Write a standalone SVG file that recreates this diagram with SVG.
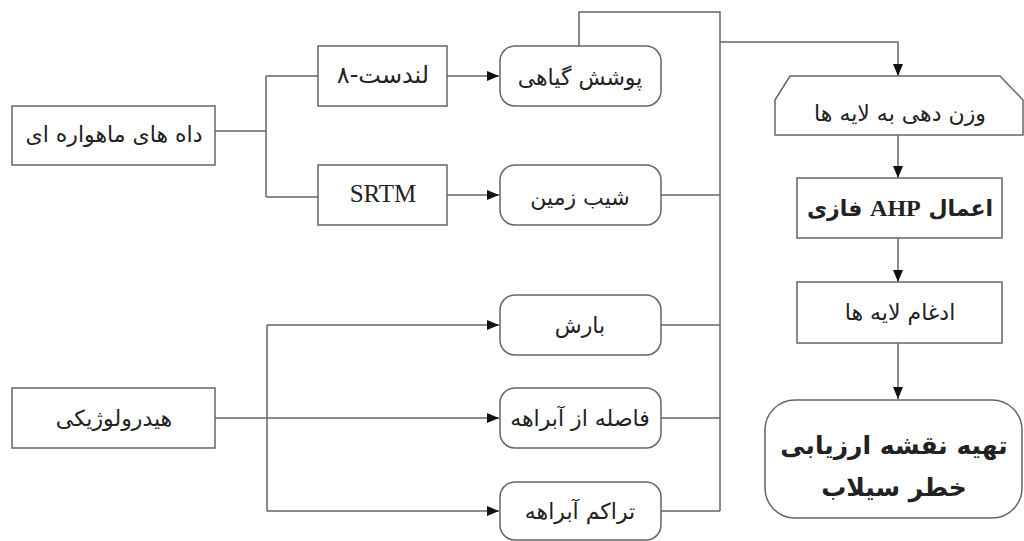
<svg xmlns="http://www.w3.org/2000/svg" width="1024" height="541" viewBox="0 0 1024 541">
<defs>
<style>
.box{fill:#fff;stroke:#666;stroke-width:1.5}
.ln{fill:none;stroke:#666;stroke-width:1.5}
.t{font-family:"DejaVu Sans","Noto Sans",sans-serif;font-size:22px;fill:#222;text-anchor:middle;dominant-baseline:central;direction:rtl;unicode-bidi:embed}
.lat{font-family:"Liberation Serif",serif;font-size:25px;fill:#222;text-anchor:middle;dominant-baseline:central}
.b{font-weight:bold}
.ser{font-family:"Liberation Serif",serif}
</style>
<marker id="ah" viewBox="0 0 12 10" refX="12" refY="5" markerWidth="12" markerHeight="10" markerUnits="userSpaceOnUse" orient="auto">
<path d="M0,0 L12,5 L0,10 z" fill="#111"/>
</marker>
</defs>
<rect width="1024" height="541" fill="#fff"/>
<g id="connectors">
<path class="ln" d="M215,131 H266 M266,76 V197 M266,76 H318 M266,197 H318"/>
<path class="ln" d="M447,76 H499" marker-end="url(#ah)"/>
<path class="ln" d="M447,195 H499" marker-end="url(#ah)"/>
<path class="ln" d="M215,418 H267 M267,325 V511"/>
<path class="ln" d="M267,325 H499" marker-end="url(#ah)"/>
<path class="ln" d="M267,418 H499" marker-end="url(#ah)"/>
<path class="ln" d="M267,511 H499" marker-end="url(#ah)"/>
<path class="ln" d="M579,46 V12 H720 V511"/>
<path class="ln" d="M661,195 H720 M661,325 H720 M661,418 H720 M661,511 H720"/>
<path class="ln" d="M720,42 H898 V76" marker-end="url(#ah)"/>
<path class="ln" d="M898,135 V178" marker-end="url(#ah)"/>
<path class="ln" d="M898,238 V282" marker-end="url(#ah)"/>
<path class="ln" d="M898,343 V399" marker-end="url(#ah)"/>
</g>
<g id="satellite">
<rect class="box" x="12" y="106" width="203" height="59"/>
<text class="t" x="114" y="134">داه های ماهواره ای</text>
</g>
<g id="landsat">
<rect class="box" x="318" y="46" width="129" height="60"/>
<text class="t" x="383" y="75" style="font-size:24px">لندست-۸</text>
</g>
<g id="srtm">
<rect class="box" x="318" y="165" width="129" height="60"/>
<text class="lat" x="383" y="193">SRTM</text>
</g>
<g id="vegetation">
<rect class="box" x="500" y="46" width="161" height="60" rx="15"/>
<text class="t" x="580" y="77">پوشش گیاهی</text>
</g>
<g id="slope">
<rect class="box" x="500" y="165" width="161" height="60" rx="15"/>
<text class="t" x="580" y="197">شیب زمین</text>
</g>
<g id="hydro">
<rect class="box" x="12" y="388" width="203" height="60"/>
<text class="t" x="114" y="418">هیدرولوژیکی</text>
</g>
<g id="rain">
<rect class="box" x="500" y="295" width="161" height="60" rx="15"/>
<text class="t" x="580" y="325">بارش</text>
</g>
<g id="distance">
<rect class="box" x="500" y="388" width="161" height="60" rx="15"/>
<text class="t" x="580" y="418">فاصله از آبراهه</text>
</g>
<g id="density">
<rect class="box" x="500" y="482" width="161" height="58" rx="15"/>
<text class="t" x="580" y="511">تراکم آبراهه</text>
</g>
<g id="weighting">
<path class="box" d="M775,100 L790,76 H1000 L1023,100 V135 H775 Z"/>
<text class="t" x="900" y="113">وزن دهی به لایه ها</text>
</g>
<g id="ahp">
<rect class="box" x="797" y="178" width="205" height="60"/>
<text class="t b" x="900" y="208">اعمال <tspan class="ser" style="font-size:24px">AHP</tspan> فازی</text>
</g>
<g id="merge">
<rect class="box" x="797" y="282" width="205" height="61"/>
<text class="t" x="900" y="312">ادغام لایه ها</text>
</g>
<g id="final">
<rect class="box" x="765" y="400" width="257" height="118" rx="30"/>
<text class="t b" x="894" y="445" style="font-size:25px">تهیه نقشه ارزیابی</text>
<text class="t b" x="894" y="487" style="font-size:25px">خطر سیلاب</text>
</g>
</svg>
